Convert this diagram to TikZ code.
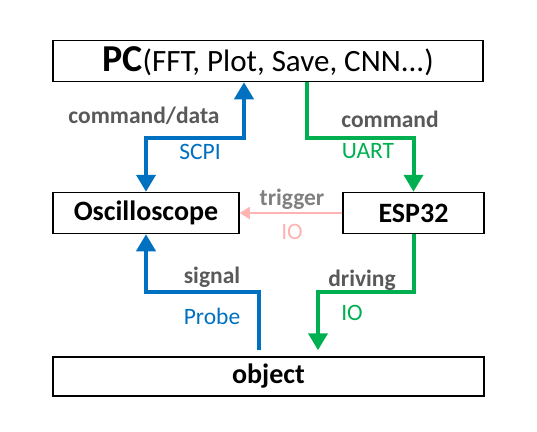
\documentclass[tikz,border=0pt]{standalone}
\usepackage{fontspec}
\setmainfont{Carlito}
\usetikzlibrary{arrows.meta}
\definecolor{lineblue}{HTML}{0070C0}
\definecolor{linegreen}{HTML}{00B050}
\definecolor{linepink}{HTML}{FFB3B3}
\definecolor{labelgray}{HTML}{595959}
\tikzset{>={Triangle[width=19pt,length=17pt]}}
\tikzset{box/.style={draw, line width=1.5pt, inner sep=0pt, minimum height=41pt, font=\fontsize{28}{32}\selectfont\bfseries},
  what/.style={font=\fontsize{23.5}{27}\selectfont\bfseries, text=labelgray},
  how/.style={font=\fontsize{23.5}{27}\selectfont}}

\begin{document}
\begin{tikzpicture}[x=1pt,y=-1pt]
\useasboundingbox (0,0) rectangle (537,431);
% boxes
\node[box, minimum width=430pt] (pc) at (268,61) {\fontsize{38}{42}\selectfont PC\fontsize{31}{35}\selectfont\mdseries(FFT, Plot, Save, CNN...)};
\node[box, minimum width=186pt] (osc) at (146,213) {Oscilloscope};
\node[box, minimum width=141pt] (esp) at (413.5,213) {ESP32};
\node[box, minimum width=431pt, minimum height=39pt] (obj) at (268.5,376.5) {object};
% bends
\coordinate (scpi) at (244,138);
\coordinate (uart) at (307,138);
\coordinate (probe) at (259,292);
\coordinate (drive) at (318,292);
% connectors
\draw[<->, line width=4pt, lineblue] (osc.north) |- (scpi) -- (scpi |- pc.south);
\draw[->, line width=4pt, linegreen] (uart |- pc.south) -- (uart) -| (esp.north);
\draw[-{Triangle[width=12pt,length=10pt]}, line width=2pt, linepink] (esp.west) -- (osc.east);
\draw[->, line width=4pt, lineblue] ([yshift=6pt]probe |- obj.north) -- (probe) -| (osc.south);
\draw[->, line width=4pt, linegreen] (esp.south) |- (drive) -- ([yshift=6pt]drive |- obj.north);
% labels
\node[what] (l1) at (144,116) {command/data};
\node[how, text=lineblue] (l2) at (200,152) {SCPI};
\node[what] (l3) at (390,119) {command};
\node[how, text=linegreen] (l4) at (368,151) {UART};
\node[what, text=gray] (l5) at (292,199) {trigger};
\node[how, text=linepink] (l6) at (292,232) {IO};
\node[what] (l7) at (212,277) {signal};
\node[how, text=lineblue] (l8) at (212,316) {Probe};
\node[what] (l9) at (362,280) {driving};
\node[how, text=linegreen] (l10) at (352,313) {IO};
\end{tikzpicture}
\end{document}
